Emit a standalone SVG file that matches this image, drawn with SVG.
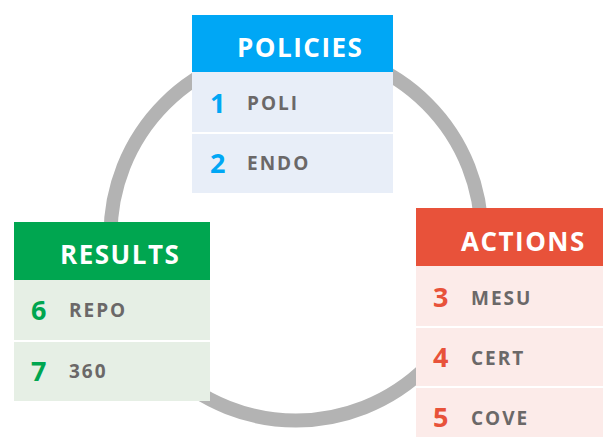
<svg xmlns="http://www.w3.org/2000/svg" width="603" height="437" viewBox="0 0 603 437">
  <style>
    .ring { fill: none; stroke: #b3b3b3; stroke-width: 14; }
    .head { font-family: "Open Sans", "Liberation Sans", sans-serif; font-weight: 700; font-size: 26px; fill: #ffffff; letter-spacing: 1.5px; }
    .num { font-family: "Open Sans", "Liberation Sans", sans-serif; font-weight: 700; font-size: 27px; }
    .lbl { font-family: "Open Sans", "Liberation Sans", sans-serif; font-weight: 700; font-size: 19px; fill: #6b6868; letter-spacing: 2px; }
    .sep { stroke: #ffffff; stroke-width: 2; }
    .blue { fill: #00a7f5; }
    .blue-row { fill: #e8eef8; }
    .green { fill: #00a650; }
    .green-row { fill: #e6efe5; }
    .red { fill: #e8523a; }
    .red-row { fill: #fcebe9; }
  </style>

  <rect width="603" height="437" fill="#ffffff"/>

  <!-- cycle ring linking the three stages -->
  <g id="connectors">
    <circle class="ring" cx="296" cy="235" r="185.5"/>
  </g>

  <!-- stage: policies -->
  <g id="policies">
    <rect class="blue" x="192" y="15" width="201" height="57"/>
    <rect class="blue-row" x="192" y="72" width="201" height="121"/>
    <line class="sep" x1="192" y1="133" x2="393" y2="133"/>
    <text class="head" x="237" y="57">POLICIES</text>
    <text class="num blue" x="210" y="113">1</text>
    <text class="lbl" x="247" y="110">POLI</text>
    <text class="num blue" x="210" y="173">2</text>
    <text class="lbl" x="247" y="170">ENDO</text>
  </g>

  <!-- stage: results -->
  <g id="results">
    <rect class="green" x="14" y="222" width="196" height="58"/>
    <rect class="green-row" x="14" y="280" width="196" height="121"/>
    <line class="sep" x1="14" y1="341" x2="210" y2="341"/>
    <text class="head" x="60" y="264">RESULTS</text>
    <text class="num green" x="31" y="320">6</text>
    <text class="lbl" x="69" y="317">REPO</text>
    <text class="num green" x="31" y="381">7</text>
    <text class="lbl" x="69" y="378">360</text>
  </g>

  <!-- stage: actions -->
  <g id="actions">
    <rect class="red" x="416" y="208" width="200" height="58"/>
    <rect class="red-row" x="416" y="266" width="200" height="180"/>
    <line class="sep" x1="416" y1="327" x2="616" y2="327"/>
    <line class="sep" x1="416" y1="387" x2="616" y2="387"/>
    <text class="head" x="461" y="251">ACTIONS</text>
    <text class="num red" x="433" y="307">3</text>
    <text class="lbl" x="471" y="305">MESU</text>
    <text class="num red" x="433" y="367">4</text>
    <text class="lbl" x="471" y="365">CERT</text>
    <text class="num red" x="433" y="427">5</text>
    <text class="lbl" x="471" y="425">COVE</text>
  </g>
</svg>
